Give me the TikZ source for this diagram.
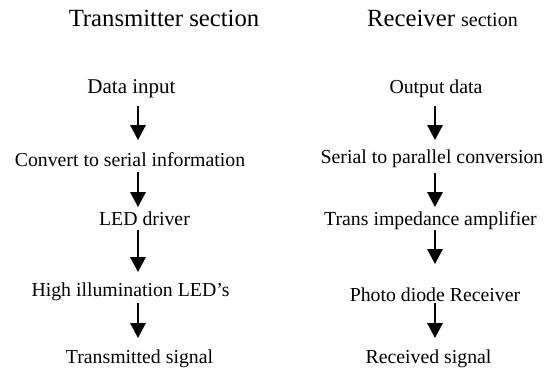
\documentclass[tikz,border=0pt]{standalone}
\usepackage{fontspec}
\setmainfont{Liberation Serif}
\usetikzlibrary{arrows.meta,calc}
\begin{document}
\begin{tikzpicture}[x=1pt,y=-1pt,
  lbl/.style={anchor=base,inner sep=0pt,font=\fontsize{19.8}{22}\selectfont},
  ttl/.style={anchor=base,inner sep=0pt,font=\fontsize{24.7}{28}\selectfont},
  arr/.style={line width=1.5pt,-{Triangle[width=15.5pt,length=15pt]}}]
\useasboundingbox (0,0) rectangle (550,372);
% titles
\node[ttl] (tt) at (164,27) {Transmitter section};
\node[ttl] (rt) at (442.5,27) {Receiver {\fontsize{20}{22}\selectfont section}};
% transmitter column
\node[lbl,font=\fontsize{21}{23}\selectfont] (t1) at (131.5,93) {Data input};
\node[lbl] (t2) at (130,166) {Convert to serial information};
\node[lbl] (t3) at (144.5,225) {LED driver};
\node[lbl] (t4) at (130.5,296) {High illumination LED’s};
\node[lbl] (t5) at (139.5,363) {Transmitted signal};
% receiver column
\node[lbl] (r1) at (436,93) {Output data};
\node[lbl] (r2) at (432,163) {Serial to parallel conversion};
\node[lbl] (r3) at (430.5,225) {Trans impedance amplifier};
\node[lbl] (r4) at (435,301) {Photo diode Receiver};
\node[lbl] (r5) at (428.5,363) {Received signal};
% columns of arrows
\coordinate (L) at (138,0);
\coordinate (R) at (435,0);
\draw[arr] ($(t1.base -| L)+(0,13)$) -- ($(t2.base -| L)+(0,-26)$);
\draw[arr] ($(t2.base -| L)+(0,6)$) -- ($(t3.base -| L)+(0,-18)$);
\draw[arr] ($(t3.base -| L)+(0,5)$) -- ($(t4.base -| L)+(0,-24)$);
\draw[arr] ($(t4.base -| L)+(0,7)$) -- ($(t5.base -| L)+(0,-25)$);
\draw[arr] ($(r1.base -| R)+(0,13)$) -- ($(r2.base -| R)+(0,-23)$);
\draw[arr] ($(r2.base -| R)+(0,10)$) -- ($(r3.base -| R)+(0,-18)$);
\draw[arr] ($(r3.base -| R)+(0,5)$) -- ($(r4.base -| R)+(0,-37)$);
\draw[arr] ($(r4.base -| R)+(0,2)$) -- ($(r5.base -| R)+(0,-25)$);
\end{tikzpicture}
\end{document}
